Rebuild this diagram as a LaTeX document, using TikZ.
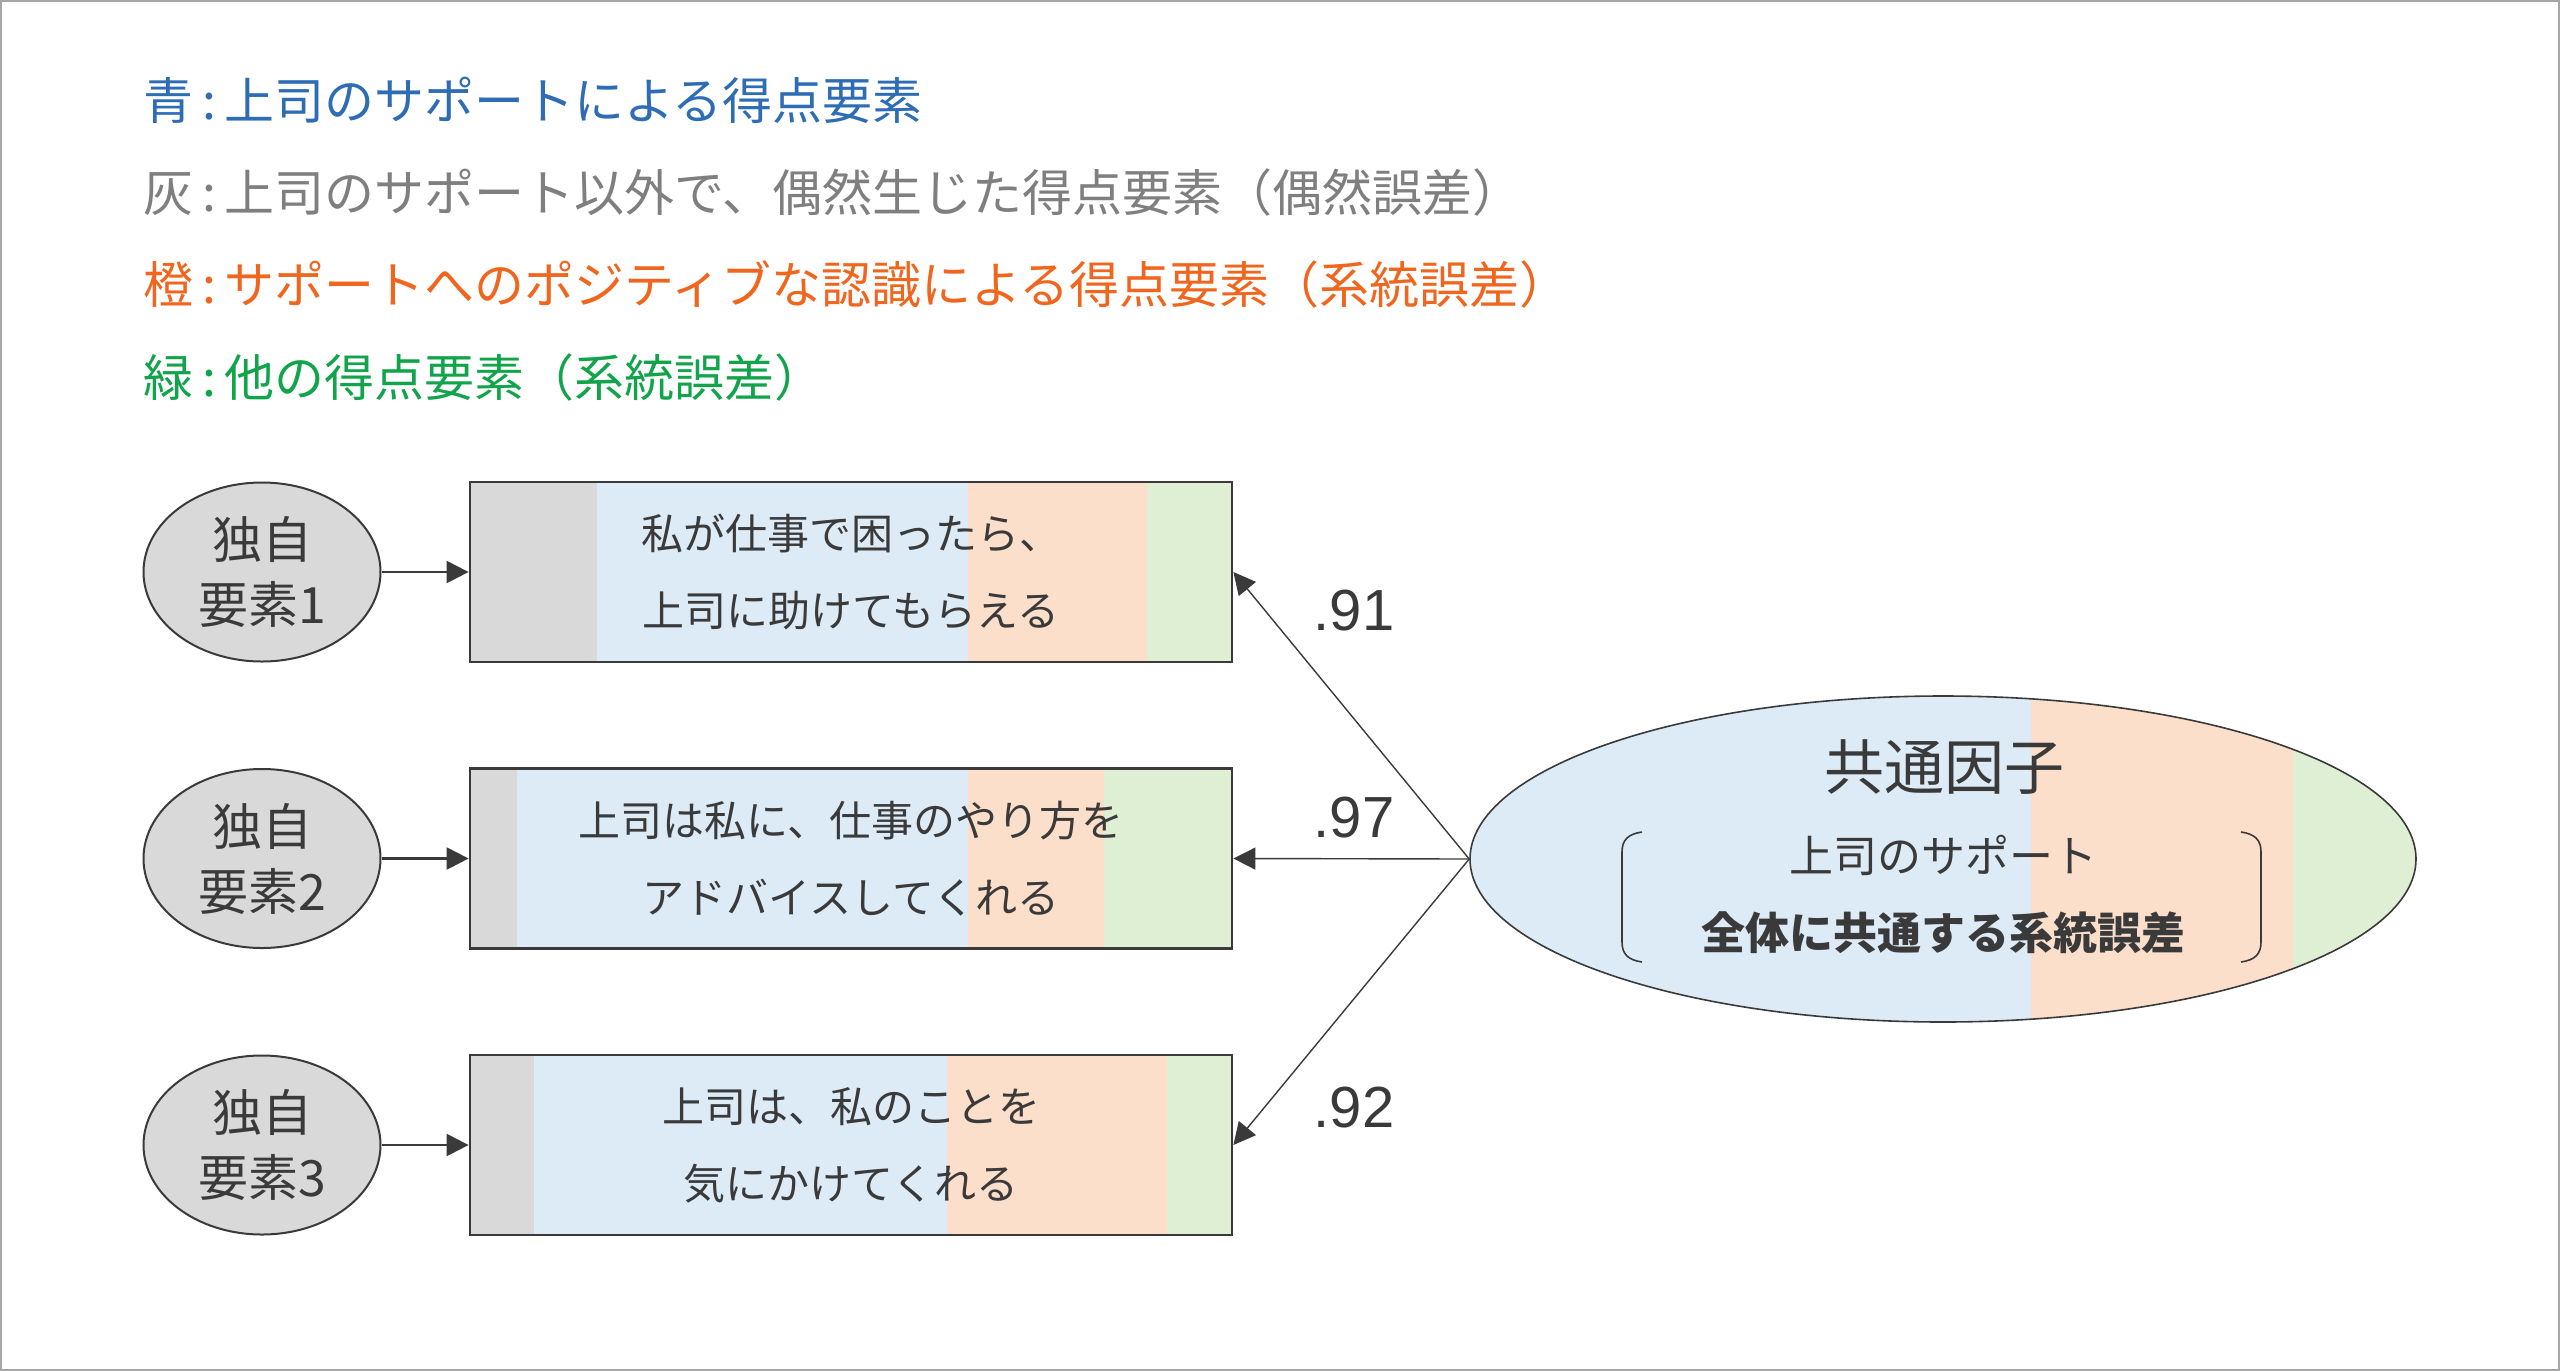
\documentclass[tikz,border=0pt]{standalone}
\usepackage{fontspec}
\setmainfont{Noto Sans CJK JP}
\newfontfamily\numfont{Liberation Sans}
\usepackage{tikz}
\usetikzlibrary{shapes.geometric,arrows.meta}

\definecolor{legblue}{HTML}{2E6DB4}
\definecolor{leggray}{HTML}{7F7F7F}
\definecolor{legorange}{HTML}{F0661E}
\definecolor{leggreen}{HTML}{12A44A}
\definecolor{fillgray}{HTML}{D9D9D9}
\definecolor{fillblue}{HTML}{DDEBF7}
\definecolor{fillorange}{HTML}{FCDFCA}
\definecolor{fillgreen}{HTML}{DFEFD3}
\definecolor{textdark}{HTML}{3A3A3A}
\definecolor{framegray}{HTML}{A6A6A6}

\tikzset{
  legend/.style={anchor=base west,inner sep=0pt,font=\fontsize{12.5pt}{15pt}\selectfont},
  uniq/.style={ellipse,draw=textdark,line width=0.5pt,fill=fillgray,minimum width=59.25pt,minimum height=44.75pt,inner sep=0pt,align=center,text=textdark,font=\fontsize{12.5pt}{16.25pt}\selectfont},
  itembox/.style={rectangle,draw=textdark,line width=0.7pt,minimum width=190.5pt,minimum height=45pt,inner sep=0pt,align=center,text=textdark,font=\fontsize{10.5pt}{19.25pt}\selectfont},
  factor/.style={ellipse,draw=textdark,line width=0.4pt,minimum width=236.5pt,minimum height=81.5pt,inner sep=0pt},
  loadlabel/.style={inner sep=0pt,text=textdark,font=\numfont\fontsize{14.5pt}{17pt}\selectfont},
  conn/.style={draw=textdark,line width=0.6pt,-{Triangle[length=5.5pt,width=5.5pt]}},
  loadarrow/.style={draw=textdark,line width=0.35pt,-{Triangle[length=5.5pt,width=5.5pt]}},
}

\begin{document}
\begin{tikzpicture}[x=0.25pt,y=0.25pt,yscale=-1,xscale=1]
\useasboundingbox (0,0) rectangle (2560,1371);
%Shape: Rectangle [frame]
\draw [framegray,line width=0.5pt] (1,1) rectangle (2559,1370);

%Text Node [legend]
\node [legend,text=legblue] (leg1) at (143,119) {青\,:\,上司のサポートによる得点要素};
\node [legend,text=leggray] (leg2) at (143,211) {灰\,:\,上司のサポート以外で、偶然生じた得点要素（偶然誤差）};
\node [legend,text=legorange] (leg3) at (143,303) {橙\,:\,サポートへのポジティブな認識による得点要素（系統誤差）};
\node [legend,text=leggreen] (leg4) at (143,396) {緑\,:\,他の得点要素（系統誤差）};

%Shape: Rectangle [item 1 parts]
\fill [fillgray] (470,482) rectangle (597,662);
\fill [fillblue] (597,482) rectangle (968,662);
\fill [fillorange] (968,482) rectangle (1147,662);
\fill [fillgreen] (1147,482) rectangle (1232,662);
%Shape: Rectangle [item 2 parts]
\fill [fillgray] (470,769) rectangle (517,948);
\fill [fillblue] (517,769) rectangle (968,948);
\fill [fillorange] (968,769) rectangle (1104,948);
\fill [fillgreen] (1104,769) rectangle (1232,948);
%Shape: Rectangle [item 3 parts]
\fill [fillgray] (470,1055) rectangle (534,1235);
\fill [fillblue] (534,1055) rectangle (947,1235);
\fill [fillorange] (947,1055) rectangle (1167,1235);
\fill [fillgreen] (1167,1055) rectangle (1232,1235);

%Shape: Rectangle [items]
\node [itembox] (item1) at (851,572) {私が仕事で困ったら、\\上司に助けてもらえる};
\node [itembox] (item2) at (851,858.5) {上司は私に、仕事のやり方を\\アドバイスしてくれる};
\node [itembox] (item3) at (851,1145) {上司は、私のことを\\気にかけてくれる};

%Shape: Ellipse [unique factors]
\node [uniq] (uniq1) at (262,572) {独自\\要素1};
\node [uniq] (uniq2) at (262,858.5) {独自\\要素2};
\node [uniq] (uniq3) at (262,1145) {独自\\要素3};

%Shape: Ellipse [common factor parts]
\begin{scope}
\clip (1943,859) ellipse [x radius=473, y radius=163];
\fill [fillblue] (1460,690) rectangle (2031,1030);
\fill [fillorange] (2031,690) rectangle (2293,1030);
\fill [fillgreen] (2293,690) rectangle (2420,1030);
\end{scope}
\node [factor] (common) at (1943,859) {};
\node [inner sep=0pt,text=textdark,font=\fontsize{15pt}{18pt}\selectfont] (commontitle) at (1944,767) {共通因子};
\node [inner sep=0pt,align=center,text=textdark,font=\fontsize{11pt}{19.25pt}\selectfont] (commonnote) at (1943,894) {上司のサポート\\{\bfseries 全体に共通する系統誤差}};

%Curve Lines [brackets]
\draw [textdark,line width=0.4pt] (1642,832) .. controls (1628,834) and (1622,840) .. (1622,852) -- (1622,942) .. controls (1622,954) and (1628,960) .. (1642,962) ;
\draw [textdark,line width=0.4pt] (2241,832) .. controls (2255,834) and (2261,840) .. (2261,852) -- (2261,942) .. controls (2261,954) and (2255,960) .. (2241,962) ;

%Straight Lines [unique to item]
\draw [conn] (uniq1) -- (item1) ;
\draw [conn] (uniq2) -- (item2) ;
\draw [conn] (uniq3) -- (item3) ;

%Straight Lines [loadings]
\draw [loadarrow] (common.west) -- (item1.east) ;
\draw [loadarrow] (common.west) -- (item2.east) ;
\draw [loadarrow] (common.west) -- (item3.east) ;

%Text Node [loadings]
\node [loadlabel] (load1) at (1354,611) {.91};
\node [loadlabel] (load2) at (1354,818) {.97};
\node [loadlabel] (load3) at (1354,1108) {.92};

\end{tikzpicture}
\end{document}
